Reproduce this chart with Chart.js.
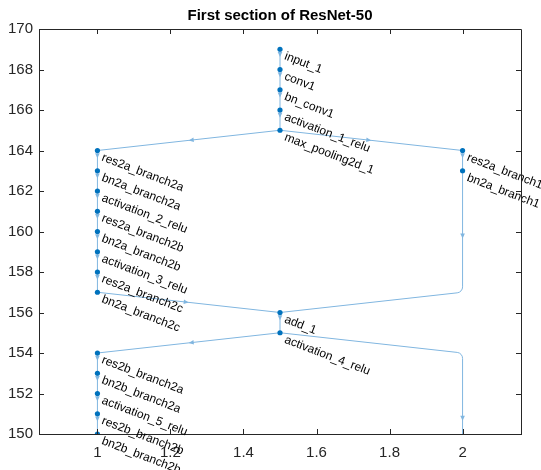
<!DOCTYPE html>
<html>
<head>
<meta charset="utf-8">
<script src="https://cdn.jsdelivr.net/npm/chart.js@4"></script>
<style>
  html, body { margin: 0; padding: 0; background: #fff; }
  #wrap { width: 541px; height: 470px; }
</style>
</head>
<body>
<div id="wrap"><canvas id="graphChart"></canvas></div>
<script>
// layer graph of the first ResNet-50 block (layered layout coordinates)
const nodeNames = ['input_1', 'conv1', 'bn_conv1', 'activation_1_relu', 'max_pooling2d_1',
  'res2a_branch2a', 'bn2a_branch2a', 'activation_2_relu', 'res2a_branch2b', 'bn2a_branch2b',
  'activation_3_relu', 'res2a_branch2c', 'bn2a_branch2c', 'res2a_branch1', 'bn2a_branch1',
  'add_1', 'activation_4_relu', 'res2b_branch2a', 'bn2b_branch2a', 'activation_5_relu',
  'res2b_branch2b', 'bn2b_branch2b', 'res2b_branch2c', 'bn2b_branch2c', 'add_2'];
const nodeX = [1.5, 1.5, 1.5, 1.5, 1.5, 1, 1, 1, 1, 1, 1, 1, 1, 2, 2, 1.5, 1.5, 1, 1, 1, 1, 1, 1, 1, 1.5];
const nodeY = [169, 168, 167, 166, 165, 164, 163, 162, 161, 160, 159, 158, 157, 164, 163, 156, 155,
  154, 153, 152, 151, 150, 149, 148, 147];

const edgeSource = ['input_1', 'conv1', 'bn_conv1', 'activation_1_relu', 'max_pooling2d_1', 'max_pooling2d_1',
  'res2a_branch2a', 'bn2a_branch2a', 'activation_2_relu', 'res2a_branch2b', 'bn2a_branch2b',
  'activation_3_relu', 'res2a_branch2c', 'bn2a_branch2c', 'res2a_branch1', 'bn2a_branch1', 'add_1',
  'activation_4_relu', 'activation_4_relu', 'res2b_branch2a', 'bn2b_branch2a', 'activation_5_relu',
  'res2b_branch2b', 'bn2b_branch2b', 'res2b_branch2c', 'bn2b_branch2c'];
const edgeTarget = ['conv1', 'bn_conv1', 'activation_1_relu', 'max_pooling2d_1', 'res2a_branch2a', 'res2a_branch1',
  'bn2a_branch2a', 'activation_2_relu', 'res2a_branch2b', 'bn2a_branch2b', 'activation_3_relu',
  'res2a_branch2c', 'bn2a_branch2c', 'add_1', 'bn2a_branch1', 'add_1', 'activation_4_relu',
  'res2b_branch2a', 'add_2', 'bn2b_branch2a', 'activation_5_relu', 'res2b_branch2b',
  'bn2b_branch2b', 'res2b_branch2c', 'bn2b_branch2c', 'add_2'];
const skipColumn = 2; // edges spanning several layers are routed down this column

const xTicks = [1, 1.2, 1.4, 1.6, 1.8, 2];
const yTicks = [150, 152, 154, 156, 158, 160, 162, 164, 166, 168, 170];

const nodeColor = '#0072BD';
const edgeColor = '#80B6E0';
const axisColor = '#262626';

function nodeIndex(name) { return nodeNames.indexOf(name); }

function drawArrow(ctx, x, y, dx, dy) {
  const len = Math.hypot(dx, dy);
  const ux = dx / len, uy = dy / len;
  const L = 5, W = 2.3;
  ctx.beginPath();
  ctx.moveTo(x, y);
  ctx.lineTo(x - ux * L - uy * W, y - uy * L + ux * W);
  ctx.lineTo(x - ux * L + uy * W, y - uy * L - ux * W);
  ctx.closePath();
  ctx.fill();
}

const graphPlugin = {
  id: 'graphPlugin',
  beforeDatasetsDraw(chart) {
    const { ctx, chartArea, scales: { x, y } } = chart;
    ctx.save();
    ctx.beginPath();
    ctx.rect(chartArea.left, chartArea.top, chartArea.right - chartArea.left, chartArea.bottom - chartArea.top);
    ctx.clip();
    ctx.strokeStyle = edgeColor;
    ctx.fillStyle = edgeColor;
    ctx.lineWidth = 1;
    edgeSource.forEach((s, i) => {
      const a = nodeIndex(s), b = nodeIndex(edgeTarget[i]);
      const pts = [[nodeX[a], nodeY[a]]];
      const long = nodeY[a] - nodeY[b] > 1;
      if (long) {
        if (nodeX[a] !== skipColumn) pts.push([skipColumn, nodeY[a] - 1]);
        pts.push([skipColumn, nodeY[b] + 1]);
      }
      pts.push([nodeX[b], nodeY[b]]);
      const px = pts.map(p => [x.getPixelForValue(p[0]), y.getPixelForValue(p[1])]);
      ctx.beginPath();
      ctx.moveTo(px[0][0], px[0][1]);
      for (let k = 1; k < px.length - 1; k++) {
        ctx.arcTo(px[k][0], px[k][1], px[k + 1][0], px[k + 1][1], 6);
      }
      ctx.lineTo(px[px.length - 1][0], px[px.length - 1][1]);
      ctx.stroke();
      // arrow head
      if (long) {
        const topY = nodeX[a] === skipColumn ? nodeY[a] : nodeY[a] - 1;
        const p0 = y.getPixelForValue(topY);
        const p1 = y.getPixelForValue(nodeY[b] + 1);
        drawArrow(ctx, x.getPixelForValue(skipColumn), (p0 + p1) / 2 + 7, 0, 1);
      } else {
        const p0 = px[0], p1 = px[1];
        const t = p0[0] === p1[0] ? 0.38 : 0.5;
        drawArrow(ctx, p0[0] + (p1[0] - p0[0]) * t, p0[1] + (p1[1] - p0[1]) * t, p1[0] - p0[0], p1[1] - p0[1]);
      }
    });
    ctx.restore();
  },
  afterDatasetsDraw(chart) {
    const { ctx, scales: { x, y } } = chart;
    ctx.save();
    ctx.font = '12px "Liberation Sans", Arial, sans-serif';
    ctx.fillStyle = '#000';
    ctx.textBaseline = 'top';
    nodeNames.forEach((name, i) => {
      if (nodeY[i] < y.min || nodeY[i] > y.max) return;
      ctx.save();
      ctx.translate(x.getPixelForValue(nodeX[i]) + 7, y.getPixelForValue(nodeY[i]) + 1);
      ctx.rotate(21 * Math.PI / 180);
      ctx.fillText(name, 0, 0);
      ctx.restore();
    });
    ctx.restore();
  },
  afterDraw(chart) {
    const { ctx, chartArea: a, scales: { x, y } } = chart;
    ctx.save();
    ctx.strokeStyle = axisColor;
    ctx.lineWidth = 1;
    ctx.beginPath();
    ctx.moveTo(a.left, a.top + 0.5);
    ctx.lineTo(a.right + 0.5, a.top + 0.5);
    ctx.lineTo(a.right + 0.5, a.bottom);
    // inward tick marks on all four sides
    xTicks.forEach(v => {
      const px = Math.round(x.getPixelForValue(v)) + 0.5;
      ctx.moveTo(px, a.bottom); ctx.lineTo(px, a.bottom - 5);
      ctx.moveTo(px, a.top); ctx.lineTo(px, a.top + 5);
    });
    yTicks.forEach(v => {
      const py = Math.round(y.getPixelForValue(v)) + 0.5;
      ctx.moveTo(a.left, py); ctx.lineTo(a.left + 5, py);
      ctx.moveTo(a.right, py); ctx.lineTo(a.right - 5, py);
    });
    ctx.stroke();
    ctx.fillStyle = '#000';
    ctx.font = 'bold 15px "Liberation Sans", Arial, sans-serif';
    ctx.textAlign = 'center';
    ctx.textBaseline = 'middle';
    ctx.fillText('First section of ResNet-50', (a.left + a.right) / 2, 16);
    ctx.restore();
  }
};

new Chart(document.getElementById('graphChart').getContext('2d'), {
  type: 'scatter',
  data: {
    datasets: [{
      label: 'layers',
      data: nodeX.map((v, i) => ({ x: v, y: nodeY[i] })),
      pointRadius: 2.6,
      pointHoverRadius: 2.6,
      pointBackgroundColor: nodeColor,
      pointBorderColor: nodeColor,
      pointBorderWidth: 0
    }]
  },
  options: {
    responsive: true,
    maintainAspectRatio: false,
    animation: false,
    events: [],
    layout: { padding: { top: 29, right: 20, left: 0, bottom: 0 } },
    plugins: {
      legend: { display: false },
      tooltip: { enabled: false },
      title: { display: false }
    },
    scales: {
      x: {
        type: 'linear',
        min: 0.84,
        max: 2.16,
        afterBuildTicks: s => { s.ticks = xTicks.map(v => ({ value: v })); },
        afterFit: s => { s.height = 36; },
        grid: { display: false, drawTicks: false },
        border: { display: true, color: axisColor, width: 1 },
        ticks: {
          color: axisColor,
          padding: 10,
          maxRotation: 0,
          font: { family: '"Liberation Sans", Arial, sans-serif', size: 15 },
          callback: v => String(Math.round(v * 10) / 10)
        }
      },
      y: {
        type: 'linear',
        min: 150,
        max: 170,
        afterBuildTicks: s => { s.ticks = yTicks.map(v => ({ value: v })); },
        afterFit: s => { s.width = 39; },
        grid: { display: false, drawTicks: false },
        border: { display: true, color: axisColor, width: 1 },
        ticks: {
          color: axisColor,
          padding: 6,
          font: { family: '"Liberation Sans", Arial, sans-serif', size: 15 }
        }
      }
    }
  },
  plugins: [graphPlugin]
});
</script>
</body>
</html>
